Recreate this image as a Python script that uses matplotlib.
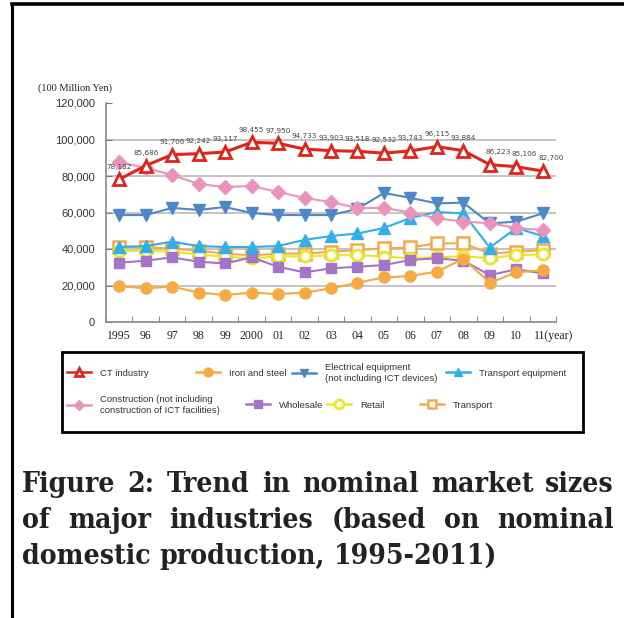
import matplotlib.pyplot as plt
from matplotlib.lines import Line2D
from matplotlib.patches import Rectangle
from matplotlib.transforms import ScaledTranslation

years = list(range(1995, 2012))
year_labels = ['1995', '96', '97', '98', '99', '2000', '01', '02', '03', '04',
               '05', '06', '07', '08', '09', '10', '11(year)']

ct_industry = [78182, 85686, 91706, 92242, 93117, 98455, 97950, 94733, 93903,
               93518, 92532, 93743, 96115, 93884, 86223, 85106, 82700]
iron_steel = [19600, 18500, 19400, 16100, 14800, 16100, 15300, 16100, 18400,
              21500, 24400, 25200, 27600, 34600, 21500, 27200, 28300]
electrical = [58600, 58600, 62500, 61400, 63000, 59700, 58600, 58600, 58600,
              62000, 70700, 68000, 65000, 65400, 54000, 55000, 59500]
transport_eq = [41100, 41600, 44000, 41600, 41100, 41100, 41600, 45000, 47100,
                48500, 51500, 57000, 60300, 59500, 40800, 51500, 47100]
construction = [87500, 84500, 80500, 75600, 74000, 74500, 71200, 68000, 65700,
                62500, 62500, 60000, 56800, 55000, 54200, 51500, 50400]
wholesale = [32500, 33600, 35400, 33000, 32100, 35400, 30300, 27200, 29400,
             30300, 31200, 34000, 34900, 33600, 25700, 28900, 26600]
retail = [39000, 39000, 38500, 37000, 35800, 34800, 36000, 36000, 36500,
          36700, 35800, 35000, 35500, 36000, 34900, 36700, 37000]
transport = [41300, 41000, 40300, 39000, 37500, 36500, 37500, 37500, 38500,
             39400, 40300, 40900, 43100, 43100, 37500, 38500, 39400]

plt.rcParams['font.family'] = ['DejaVu Sans']

fig = plt.figure(figsize=(6.24, 6.18), dpi=100)

# page frame (top and left edge)
fig.add_artist(Line2D([12 / 624, 12 / 624], [0, 1 - 4 / 618], color='black', lw=2.2))
fig.add_artist(Line2D([12 / 624, 1], [1 - 4 / 618, 1 - 4 / 618], color='black', lw=2.6))

ax = fig.add_axes([106 / 624, 1 - 322 / 618, 450 / 624, 219 / 618])

series = [
    ('CT industry', ct_industry, dict(color='#e2231a', marker='^', mfc='white', mec='#e2231a', ms=8, mew=2, lw=2.2)),
    ('Iron and steel', iron_steel, dict(color='#f5aa45', marker='o', mfc='#f5aa45', mec='#f5aa45', ms=8, lw=1.5)),
    ('Electrical equipment\n(not including ICT devices)', electrical, dict(color='#4f86c6', marker='v', mfc='#4f86c6', mec='#4f86c6', ms=8, lw=1.5)),
    ('Transport equipment', transport_eq, dict(color='#34aee9', marker='^', mfc='#34aee9', mec='#34aee9', ms=8, lw=1.5)),
    ('Construction (not including\nconstruction of ICT facilities)', construction, dict(color='#eb93bd', marker='D', mfc='#eb93bd', mec='#eb93bd', ms=7, lw=1.5)),
    ('Wholesale', wholesale, dict(color='#a574c8', marker='s', mfc='#a574c8', mec='#a574c8', ms=7, lw=1.5)),
    ('Retail', retail, dict(color='#e6e62a', marker='o', mfc='white', mec='#e6e62a', ms=8, mew=2, lw=1.5)),
    ('Transport', transport, dict(color='#f2aa4c', marker='s', mfc='white', mec='#f2aa4c', ms=8, mew=1.8, lw=1.5)),
]

handles = {}
draw_order = [7, 6, 5, 1, 3, 2, 4, 0]
for i in draw_order:
    name, vals, kw = series[i]
    h, = ax.plot(years, vals, zorder=3 + (i == 0), **kw)
    handles[i] = h

for x, v in zip(years, ct_industry):
    dx = 6 if x >= 2009 else 0
    ax.annotate(f'{v:,}', (x, v), xytext=(dx, 7), textcoords='offset points',
                ha='center', va='bottom', fontsize=5.2, color='#444444',
                family='Liberation Sans Narrow')

ax.set_xlim(1994.5, 2011.5)
ax.set_ylim(0, 120000)
ax.set_yticks(range(0, 120001, 20000))
ax.set_yticklabels([f'{v:,}' for v in range(0, 120001, 20000)], fontsize=8,
                   color='#333333', family='Liberation Sans')
for v in range(20000, 100001, 20000):
    ax.axhline(v, color='#c4c4c4', lw=1.4, zorder=1)

ax.set_xticks(years)
ax.set_xticklabels(year_labels, family='Liberation Serif', fontsize=8.5, color='#222222')
ax.set_xticks([y + 0.5 for y in range(1994, 2012)], minor=True)
ax.tick_params(axis='x', which='major', length=0, pad=6)
ax.tick_params(axis='x', which='minor', direction='in', length=4, color='#777777')
ax.tick_params(axis='y', direction='in', length=4, color='#777777', pad=8)
for s in ['top', 'right']:
    ax.spines[s].set_visible(False)
for s in ['left', 'bottom']:
    ax.spines[s].set_color('#888888')
    ax.spines[s].set_linewidth(1.2)
# keep '11' of the last label under its point
lbls = ax.get_xticklabels()
lbls[-1].set_horizontalalignment('left')
lbls[-1].set_transform(lbls[-1].get_transform() + ScaledTranslation(-6 / 72, 0, fig.dpi_scale_trans))

fig.text(38 / 624, 1 - 88 / 618, '(100 Million Yen)', family='Liberation Serif',
         fontsize=7.5, color='#222222', va='center')

# legend box
fig.add_artist(Rectangle((62 / 624, 1 - 432 / 618), 521 / 624, 80 / 618,
                         fill=False, ec='black', lw=2, transform=fig.transFigure))
legend_pos = [(67, 373), (196, 373), (292, 373), (446, 373),
              (67, 405), (246, 405), (327, 405), (420, 405)]
for i, (px, py) in enumerate(legend_pos):
    h = handles[i]
    lh = Line2D([], [], color=h.get_color(), marker=h.get_marker(),
                mfc=h.get_markerfacecolor(), mec=h.get_markeredgecolor(),
                ms=h.get_markersize() * 0.8, mew=h.get_markeredgewidth(), lw=1.8)
    fig.legend([lh], [series[i][0]], loc='center left',
               bbox_to_anchor=(px / 624, 1 - py / 618), frameon=False,
               prop={'family': 'Liberation Sans', 'size': 6.8},
               handlelength=2.5, handletextpad=1.0,
               borderpad=0, borderaxespad=0, labelcolor='#333333')

# justified caption
cap_lines = ['Figure 2: Trend in nominal market sizes',
             'of major industries (based on nominal',
             'domestic production, 1995-2011)']
cap_y = [484, 520, 556]
x0, x1 = 22 / 624, 614 / 624
cap_font = dict(family='DejaVu Serif', weight='bold', stretch='condensed',
                fontsize=20.3, color='#222222')
renderer = fig.canvas.get_renderer()
probe2 = fig.text(0, 0, 'a a', **cap_font)
probe1 = fig.text(0, 0, 'a', **cap_font)
sw = (probe2.get_window_extent(renderer).width
      - 2 * probe1.get_window_extent(renderer).width)
probe1.remove()
probe2.remove()
for li, (line, yy) in enumerate(zip(cap_lines, cap_y)):
    words = line.split(' ')
    txts = [fig.text(0, 1 - yy / 618, w, va='center', **cap_font) for w in words]
    widths = [t.get_window_extent(renderer).width / fig.bbox.width for t in txts]
    if li < 2:
        gap = (x1 - x0 - sum(widths)) / (len(words) - 1)
    else:
        gap = sw / fig.bbox.width
    x = x0
    for t, w in zip(txts, widths):
        t.set_x(x)
        x += w + gap

fig.savefig('out.png', dpi=100)
